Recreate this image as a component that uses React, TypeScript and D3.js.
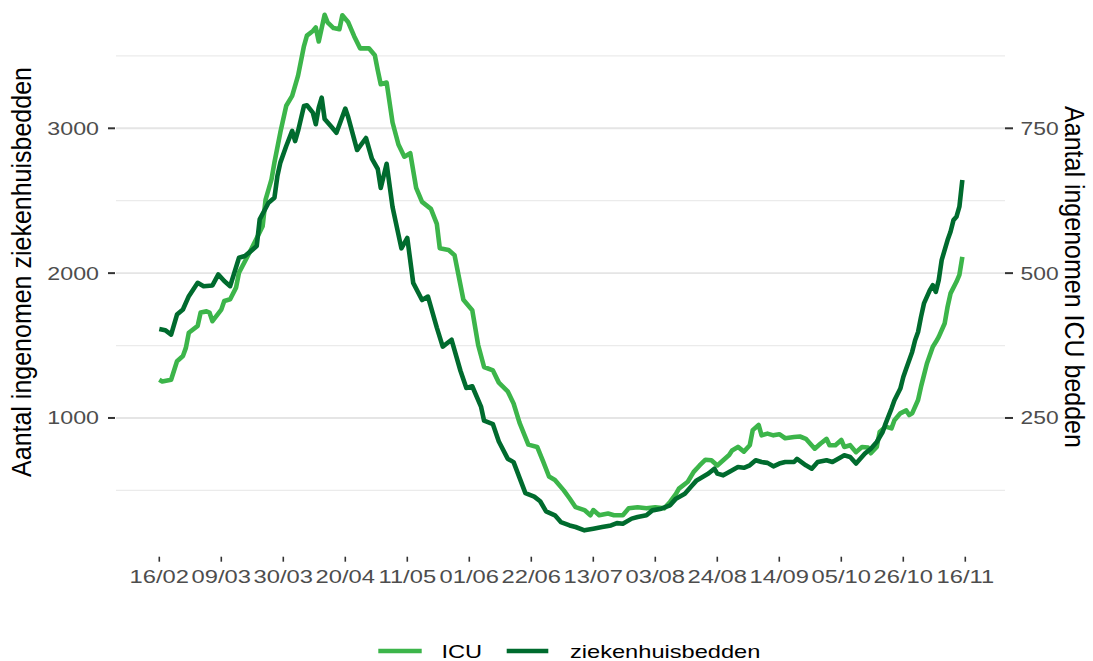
import React from "react";
import * as d3 from "d3";

// Days since 16/02/2021 and values
const START = Date.UTC(2021, 1, 16);
const END_DAYS = 273;

const xTickLabels = ["16/02","09/03","30/03","20/04","11/05","01/06","22/06","13/07","03/08","24/08","14/09","05/10","26/10","16/11"];
const leftTicks = [1000, 2000, 3000];
const leftMinor = [500, 1500, 2500, 3500];
const rightTicks = [250, 500, 750];
const ICU_FACTOR = 4; // secondary axis: ICU * 4 on the left scale

// ziekenhuisbedden: [day, beds]
const bedsSeries: [number, number][] = [
  [0,1615],[2,1606],[4,1576],[6,1714],[8,1749],[10,1841],[13,1933],[15,1910],[18,1915],[20,1991],
  [22,1945],[24,1910],[27,2106],[29,2118],[31,2152],[33,2187],[34,2371],[37,2486],[39,2521],[40,2670],
  [41,2763],[43,2878],[45,2982],[46,2912],[47,2982],[49,3154],[50,3159],[52,3108],[53,3028],[54,3143],
  [55,3212],[56,3064],[58,3017],[60,2969],[63,3136],[64,3076],[67,2850],[70,2933],[72,2790],[74,2719],
  [75,2588],[77,2755],[79,2457],[82,2171],[84,2243],[86,1933],[89,1814],[91,1838],[94,1624],[96,1493],
  [99,1540],[102,1326],[104,1207],[106,1219],[109,1076],[110,981],[113,957],[115,838],[118,719],[120,695],
  [122,588],[124,481],[127,457],[129,425],[131,355],[134,328],[136,281],[139,258],[141,247],[144,224],
  [147,235],[150,247],[153,258],[155,274],[157,270],[160,305],[162,316],[165,328],[167,362],[170,374],
  [173,397],[175,443],[178,477],[180,523],[182,569],[184,592],[186,616],[188,650],[189,616],[191,604],
  [193,627],[196,661],[198,656],[200,673],[202,708],[204,696],[206,690],[208,666],[210,685],[212,696],
  [215,696],[216,717],[219,673],[221,650],[223,696],[226,708],[228,696],[231,731],[232,742],[234,731],
  [236,685],[239,754],[241,788],[243,834],[245,903],[246,961],[248,1065],[249,1122],[251,1203],[252,1283],
  [253,1341],[255,1456],[256,1537],[257,1594],[258,1698],[259,1791],[261,1883],[262,1917],[263,1871],[264,1952],
  [265,2090],[267,2228],[268,2286],[269,2366],[270,2389],[271,2459],[272,2643]
];

// ICU: [day, ICU beds]
const icuSeries: [number, number][] = [
  [0,316],[1,313],[4,316],[6,348],[8,357],[9,371],[10,397],[13,409],[14,432],[16,434],
  [17,432],[18,417],[21,437],[22,452],[24,455],[26,475],[27,501],[30,530],[32,550],[35,581],
  [36,627],[38,662],[39,691],[41,743],[43,789],[45,806],[47,841],[49,892],[50,910],[52,918],
  [53,924],[54,900],[56,946],[57,933],[59,923],[61,921],[62,945],[64,933],[66,909],[68,888],
  [71,888],[73,876],[74,850],[75,826],[77,829],[79,760],[81,722],[83,701],[85,707],[87,647],
  [89,623],[92,611],[94,585],[95,543],[98,540],[100,531],[103,454],[106,436],[108,376],[110,338],
  [113,332],[115,311],[118,296],[120,275],[122,242],[125,204],[128,200],[130,175],[132,149],[134,143],
  [137,125],[139,111],[141,96],[144,91],[146,82],[147,91],[149,82],[152,85],[154,82],[157,82],
  [159,94],[162,96],[165,94],[168,96],[171,94],[173,105],[175,119],[176,128],[179,140],[181,157],
  [183,168],[185,178],[187,177],[189,168],[191,177],[193,186],[194,194],[196,200],[198,192],[200,203],
  [201,229],[203,238],[204,220],[206,223],[208,220],[210,222],[212,215],[215,217],[217,218],[219,214],
  [222,197],[224,206],[226,214],[227,203],[229,203],[231,212],[232,200],[234,203],[236,191],[238,200],
  [240,199],[241,189],[243,200],[244,226],[246,235],[248,232],[249,246],[251,258],[253,263],[254,255],
  [255,258],[257,281],[258,304],[259,324],[260,344],[262,373],[263,381],[264,390],[266,413],[267,442],
  [268,465],[270,485],[271,497],[272,528]
];

const seriesNames = ["ICU", "ziekenhuisbedden"];
const seriesColors = ["#3cb54a", "#006b2e"];

const W = 1093;
const H = 661;
const FONT = "'Liberation Sans', Arial, Helvetica, sans-serif";
const SX = 1.27;
const SX_X = 1.32;
const SX_TITLE = 1.12;

export default function App() {
  const day = (d: number) => new Date(START + d * 86400000);
  const x = d3.scaleUtc().domain([day(0), day(END_DAYS)]).range([159.3, 965.3]);
  const y = d3.scaleLinear().domain([0, 3000]).range([562.8, 128.3]);
  const yRight = d3.scaleLinear().domain([0, 3000 / ICU_FACTOR]).range([562.8, 128.3]);

  const panelL = 116;
  const panelR = 1005;
  const panelB = 556.7;

  const line = d3
    .line<[number, number]>()
    .x((p) => x(day(p[0])))
    .y((p) => y(p[1]));
  const icuLine = d3
    .line<[number, number]>()
    .x((p) => x(day(p[0])))
    .y((p) => yRight(p[1]));

  const tickDays = xTickLabels.map((_, i) => i * 21);

  return (
    <svg
      width={W}
      height={H}
      style={{ position: "absolute", left: 0, top: 0, background: "#fff" }}
      fontFamily={FONT}
    >
      <rect x={0} y={0} width={W} height={H} fill="#fff" />
      {/* grid */}
      {leftMinor.map((v) => (
        <line key={"mn" + v} x1={panelL} x2={panelR} y1={y(v)} y2={y(v)} stroke="#ebebeb" strokeWidth={1.2} />
      ))}
      {leftTicks.map((v) => (
        <line key={"mj" + v} x1={panelL} x2={panelR} y1={y(v)} y2={y(v)} stroke="#e5e5e5" strokeWidth={1.9} />
      ))}

      {/* lines */}
      <path d={icuLine(icuSeries) || ""} fill="none" stroke={seriesColors[0]} strokeWidth={4.6} strokeLinejoin="round" strokeLinecap="butt" />
      <path d={line(bedsSeries) || ""} fill="none" stroke={seriesColors[1]} strokeWidth={4.6} strokeLinejoin="round" strokeLinecap="butt" />

      {/* left axis */}
      {leftTicks.map((v) => (
        <g key={"lt" + v}>
          <line x1={panelL - 8} x2={panelL - 1} y1={y(v)} y2={y(v)} stroke="#333" strokeWidth={2} />
          <text transform={`translate(99,${y(v) + 6.5}) scale(${SX},1)`} textAnchor="end" fontSize={18.3} fill="#4d4d4d">
            {v}
          </text>
        </g>
      ))}
      {/* right axis */}
      {rightTicks.map((v) => (
        <g key={"rt" + v}>
          <line x1={panelR} x2={panelR + 8} y1={yRight(v)} y2={yRight(v)} stroke="#333" strokeWidth={2} />
          <text transform={`translate(1020.5,${yRight(v) + 6.5}) scale(${SX},1)`} textAnchor="start" fontSize={18} fill="#4d4d4d">
            {v}
          </text>
        </g>
      ))}
      {/* x axis */}
      {tickDays.map((d, i) => (
        <g key={"xt" + d}>
          <line x1={x(day(d))} x2={x(day(d))} y1={panelB} y2={panelB + 5} stroke="#333" strokeWidth={1.6} />
          <text transform={`translate(${x(day(d))},583.3) scale(${SX_X},1)`} textAnchor="middle" fontSize={18} fill="#4d4d4d">
            {xTickLabels[i]}
          </text>
        </g>
      ))}

      {/* axis titles */}
      <text transform={`translate(31,272) scale(${SX_TITLE},1) rotate(-90)`} textAnchor="middle" fontSize={25} fill="#000">
        Aantal ingenomen ziekenhuisbedden
      </text>
      <text transform={`translate(1065,277) scale(${SX_TITLE},1) rotate(90)`} textAnchor="middle" fontSize={25} fill="#000">
        Aantal ingenomen ICU bedden
      </text>

      {/* legend */}
      <line x1={378.3} x2={421.7} y1={651} y2={651} stroke={seriesColors[0]} strokeWidth={4.5} />
      <text transform={`translate(441.5,657.5) scale(${SX},1)`} fontSize={18.6} fill="#000">
        {seriesNames[0]}
      </text>
      <line x1={506.7} x2={548.3} y1={651} y2={651} stroke={seriesColors[1]} strokeWidth={4.5} />
      <text transform={`translate(570,657.5) scale(${SX},1)`} fontSize={18.6} fill="#000">
        {seriesNames[1]}
      </text>
    </svg>
  );
}
